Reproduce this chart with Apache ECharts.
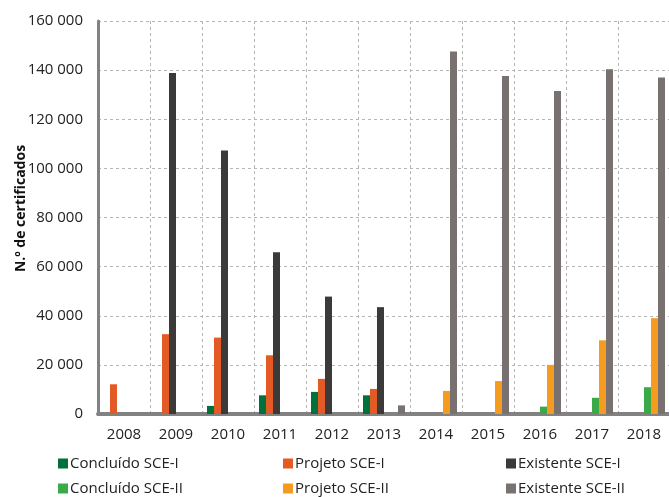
<!DOCTYPE html>
<html>
<head>
<meta charset="utf-8">
<script src="https://cdn.jsdelivr.net/npm/echarts@6/dist/echarts.min.js"></script>
<style>
  html, body { margin: 0; padding: 0; background: #fff; }
  #chart { width: 669px; height: 497px; }
</style>
</head>
<body>
<div id="chart"></div>
<script>
// Years on the category axis
const years = ['2008', '2009', '2010', '2011', '2012', '2013', '2014', '2015', '2016', '2017', '2018'];

// Number of energy certificates per year, by type
const concluidoSCE1 = [0, 0, 3300, 7600, 9000, 7600, 0, 0, 0, 0, 0];
const projetoSCE1   = [12100, 32500, 31100, 23900, 14300, 10200, 0, 0, 0, 0, 0];
const existenteSCE1 = [0, 138800, 107300, 65900, 47800, 43500, 0, 0, 0, 0, 0];
const concluidoSCE2 = [0, 0, 0, 0, 0, 0, 0, 0, 3000, 6600, 10900];
const projetoSCE2   = [0, 0, 0, 0, 0, 0, 9400, 13400, 20000, 30000, 39000];
const existenteSCE2 = [0, 0, 0, 0, 0, 3500, 147600, 137600, 131500, 140400, 137000];

const seriesNames = [
  'Concluído SCE-I', 'Projeto SCE-I', 'Existente SCE-I',
  'Concluído SCE-II', 'Projeto SCE-II', 'Existente SCE-II'
];
const seriesData = [concluidoSCE1, projetoSCE1, existenteSCE1, concluidoSCE2, projetoSCE2, existenteSCE2];
const seriesColors = ['#00703c', '#e35a24', '#3b3a38', '#3aaa48', '#f59c20', '#787170'];

const FONT = '"Open Sans", "Noto Sans", sans-serif';

function thousands(v) {
  return String(v).replace(/\B(?=(\d{3})+(?!\d))/g, ' ');
}

// Legend laid out as a 3 x 2 table: one legend block per entry
const legendCols = [58, 283, 506];
const legendRows = [456, 481];
const legends = seriesNames.map((name, i) => ({
  left: legendCols[i % 3],
  top: legendRows[Math.floor(i / 3)],
  data: [name],
  itemWidth: 10,
  itemHeight: 10,
  icon: 'rect',
  selectedMode: false,
  padding: 0,
  textStyle: { fontFamily: FONT, fontSize: 15, color: '#222', padding: [0, 0, 0, -3] }
}));

const chart = echarts.init(document.getElementById('chart'), null, { renderer: 'canvas' });

chart.setOption({
  animation: false,
  color: seriesColors,
  grid: { left: 98, right: -1, top: 21, bottom: 83, containLabel: false, outerBoundsMode: 'none' },
  legend: legends,
  xAxis: {
    type: 'category',
    data: years,
    boundaryGap: true,
    axisLine: { show: true, lineStyle: { color: '#828282', width: 4 } },
    axisTick: { show: false },
    axisLabel: { fontFamily: FONT, fontSize: 15, color: '#222', margin: 13 },
    splitLine: { show: true, lineStyle: { color: '#b5b5b5', type: [3, 3], width: 1 } }
  },
  yAxis: {
    type: 'value',
    min: 0,
    max: 160000,
    interval: 20000,
    name: 'N.º de certificados',
    nameLocation: 'middle',
    nameRotate: 90,
    nameGap: 70,
    nameMoveOverlap: false,
    nameTextStyle: { fontFamily: FONT, fontSize: 14, fontWeight: 'bold', color: '#111', padding: [0, 0, 0, 18] },
    axisLine: { show: true, lineStyle: { color: '#828282', width: 3, cap: 'round' } },
    axisTick: { show: false },
    axisLabel: { fontFamily: FONT, fontSize: 15, color: '#222', margin: 15, formatter: thousands },
    splitLine: { show: true, lineStyle: { color: '#b5b5b5', type: [3, 3], width: 1 } }
  },
  series: seriesNames.map((name, i) => ({
    name: name,
    type: 'bar',
    data: seriesData[i],
    barWidth: 7,
    barGap: '0%',
    itemStyle: { color: seriesColors[i] }
  }))
});
</script>
</body>
</html>
